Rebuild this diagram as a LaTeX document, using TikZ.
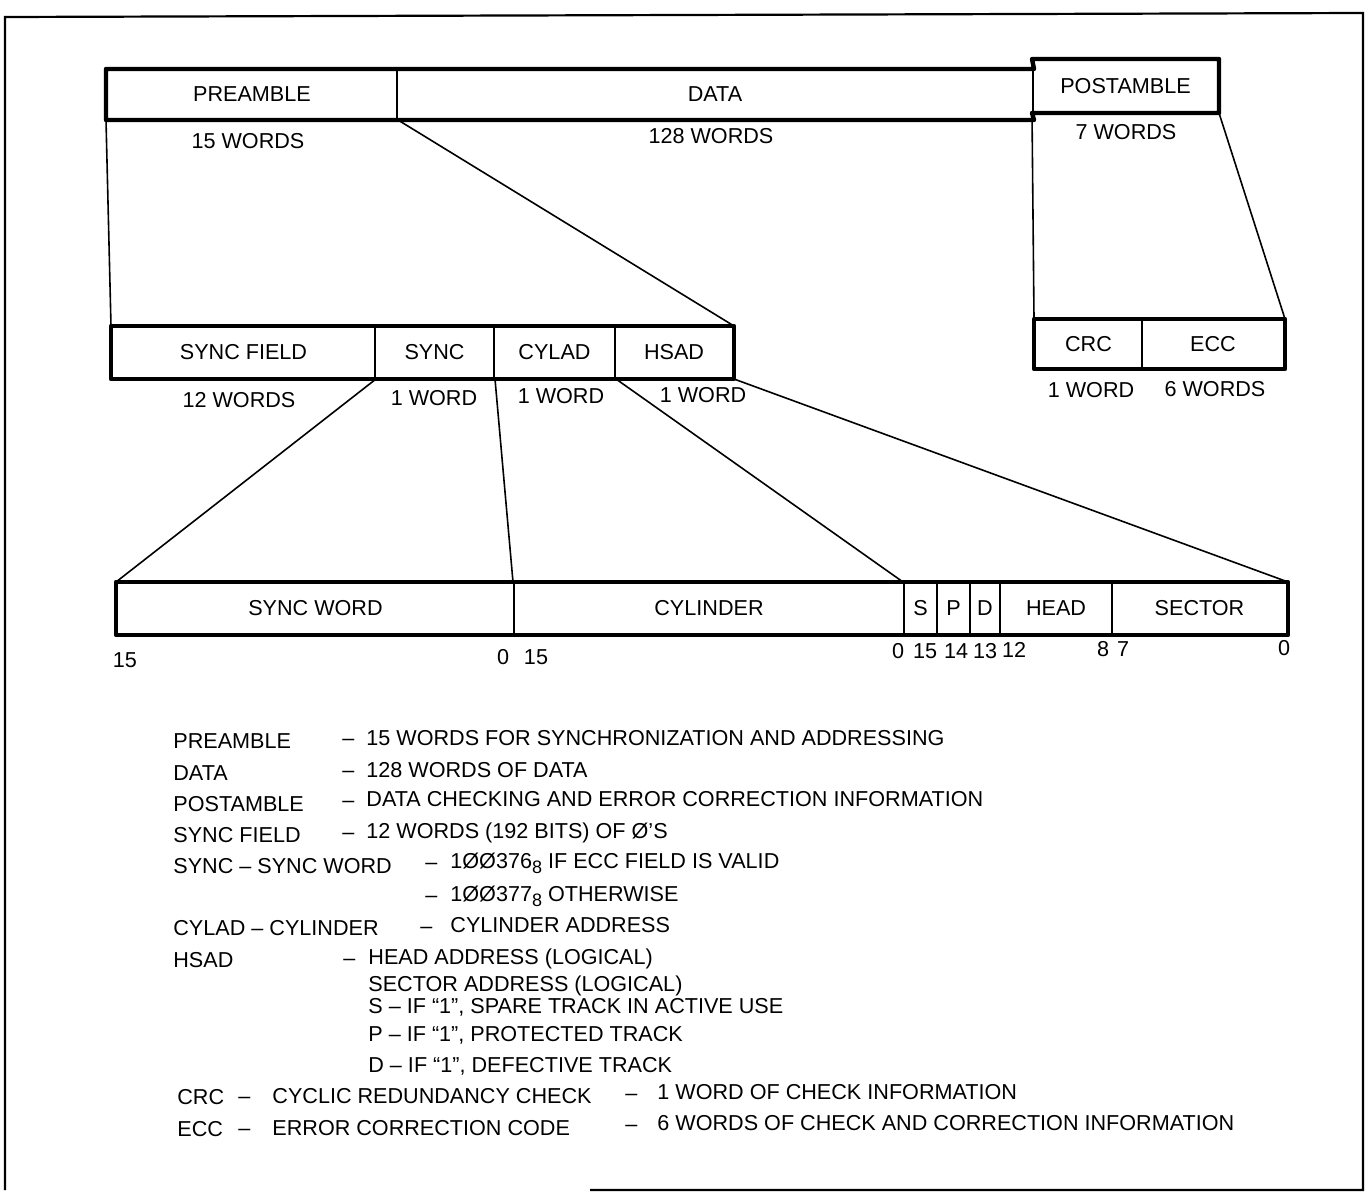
\documentclass[tikz,border=0pt]{standalone}
\usepackage{fontspec}
\setmainfont{Liberation Sans}
\usetikzlibrary{fit}
\newcommand\lbl{\fontsize{10.8}{13}\selectfont}
\newcommand\octsub[1]{\raisebox{-0.45ex}{\fontsize{9}{10}\selectfont #1}}
\begin{document}
\begin{tikzpicture}[x=0.5pt,y=-0.5pt,
  cell/.style={draw, line width=1pt, inner sep=0pt},
  outline/.style={line width=2.2pt, line join=round},
  framel/.style={line width=1.1pt},
  conn/.style={line width=0.8pt},
  num/.style={inner sep=0pt, anchor=base, font=\lbl},
  txt/.style={inner sep=0pt, anchor=base west, font=\lbl}]
\tikzset{every label/.style={font=\lbl, inner sep=0pt}}
\useasboundingbox (0,0) rectangle (1369,1194);

% outer frame
\draw[framel] (5,1190) -- (5,17) -- (1363,13) -- (1363,1190) -- (590,1190);

% top row
\node[cell, fit={(107,70) (397,119)}, label=center:PREAMBLE] (pre) {};
\node[cell, fit={(397,70) (1033,119)}, label=center:DATA] (data) {};
\node[cell, fit={(1033,60) (1218,112)}, label=center:POSTAMBLE] (post) {};
\draw[outline] (pre.north west) -- (data.north east) -- (post.north west) -- (post.north east)
  -- (post.south east) -- (post.south west) -- (data.south east) -- (pre.south west) -- cycle;
\node[num] (w15) at (248,148) {15 WORDS};
\node[num] (w128) at (711,143) {128 WORDS};
\node[num] (w7) at (1126,139) {7 WORDS};

% middle row
\node[cell, fit={(112,327) (375,378)}, label=center:SYNC FIELD] (sf) {};
\node[cell, fit={(375,327) (494,378)}, label=center:SYNC] (sy) {};
\node[cell, fit={(494,327) (615,378)}, label=center:CYLAD] (cy) {};
\node[cell, fit={(615,327) (733,378)}, label=center:HSAD] (hs) {};
\draw[outline] (sf.north west) rectangle (hs.south east);
\node[num] (w12) at (239,407) {12 WORDS};
\node[num] (w1a) at (434,405) {1 WORD};
\node[num] (w1b) at (561,403) {1 WORD};
\node[num] (w1c) at (703,402) {1 WORD};

% postamble detail
\node[cell, fit={(1035,320) (1142,368)}, label=center:CRC] (crc) {};
\node[cell, fit={(1142,320) (1284,368)}, label=center:ECC] (ecc) {};
\draw[outline] (crc.north west) rectangle (ecc.south east);
\node[num] (w1d) at (1091,397) {1 WORD};
\node[num] (w6) at (1215,396) {6 WORDS};

% bottom row
\node[cell, fit={(117,583) (514,634)}, label=center:SYNC WORD] (sw) {};
\node[cell, fit={(514,583) (904,634)}, label=center:CYLINDER] (cyl) {};
\node[cell, fit={(904,583) (937,634)}, label=center:S] (sb) {};
\node[cell, fit={(937,583) (970,634)}, label=center:P] (pb) {};
\node[cell, fit={(970,583) (1000,634)}, label=center:D] (db) {};
\node[cell, fit={(1000,583) (1112,634)}, label=center:HEAD] (head) {};
\node[cell, fit={(1112,583) (1287,634)}, label=center:SECTOR] (sec) {};
\draw[outline] (sw.north west) rectangle (sec.south east);

\node[num] (b1) at (125,667) {15};
\node[num] (b2) at (503,664) {0};
\node[num] (b3) at (536,664) {15};
\node[num] (b4) at (898,658) {0};
\node[num] (b5) at (925,658) {15};
\node[num] (b6) at (956,658) {14};
\node[num] (b7) at (985,658) {13};
\node[num] (b8) at (1014,657) {12};
\node[num] (b9) at (1103,656) {8};
\node[num] (b10) at (1123,656) {7};
\node[num] (b11) at (1284,655) {0};

% connectors
\draw[conn] (pre.south west) -- (sf.north west);
\draw[conn] (pre.south east) -- (hs.north east);
\draw[conn] (post.south west) -- (crc.north west);
\draw[conn] (post.south east) -- (ecc.north east);
\draw[conn] (sf.south east) -- (sw.north west);
\draw[conn] (sy.south east) -- (cyl.north west);
\draw[conn] (cy.south east) -- (sb.north west);
\draw[conn] (hs.south east) -- (sec.north east);

% legend
\node[txt] (l1a) at (173,748) {PREAMBLE};
\node[txt] (l1d) at (342,745) {–};
\node[txt] (l1b) at (366,745) {15 WORDS FOR SYNCHRONIZATION AND ADDRESSING};
\node[txt] (l2a) at (173,780) {DATA};
\node[txt] (l2d) at (342,777) {–};
\node[txt] (l2b) at (366,777) {128 WORDS OF DATA};
\node[txt] (l3a) at (173,811) {POSTAMBLE};
\node[txt] (l3d) at (342,807) {–};
\node[txt] (l3b) at (366,806) {DATA CHECKING AND ERROR CORRECTION INFORMATION};
\node[txt] (l4a) at (173,842) {SYNC FIELD};
\node[txt] (l4d) at (342,839) {–};
\node[txt] (l4b) at (366,838) {12 WORDS (192 BITS) OF Ø’S};
\node[txt] (l5a) at (173,873) {SYNC – SYNC WORD};
\node[txt] (l5d) at (425,869) {–};
\node[txt] (l5b) at (450,868) {1ØØ376\octsub{8} IF ECC FIELD IS VALID};
\node[txt] (l6d) at (425,902) {–};
\node[txt] (l6b) at (450,901) {1ØØ377\octsub{8} OTHERWISE};
\node[txt] (l7a) at (173,935) {CYLAD – CYLINDER};
\node[txt] (l7d) at (420,933) {–};
\node[txt] (l7b) at (450,932) {CYLINDER ADDRESS};
\node[txt] (l8a) at (173,967) {HSAD};
\node[txt] (l8d) at (343,965) {–};
\node[txt] (l8b) at (368,964) {HEAD ADDRESS (LOGICAL)};
\node[txt] (l9b) at (368,991) {SECTOR ADDRESS (LOGICAL)};
\node[txt] (l10b) at (368,1013) {S – IF “1”, SPARE TRACK IN ACTIVE USE};
\node[txt] (l11b) at (368,1041) {P – IF “1”, PROTECTED TRACK};
\node[txt] (l12b) at (368,1072) {D – IF “1”, DEFECTIVE TRACK};
\node[txt] (l13a) at (177,1104) {CRC};
\node[txt] (l13d) at (238,1103) {–};
\node[txt] (l13b) at (272,1103) {CYCLIC REDUNDANCY CHECK};
\node[txt] (l13e) at (625,1100) {–};
\node[txt] (l13c) at (657,1099) {1 WORD OF CHECK INFORMATION};
\node[txt] (l14a) at (177,1136) {ECC};
\node[txt] (l14d) at (238,1135) {–};
\node[txt] (l14b) at (272,1135) {ERROR CORRECTION CODE};
\node[txt] (l14e) at (625,1131) {–};
\node[txt] (l14c) at (657,1130) {6 WORDS OF CHECK AND CORRECTION INFORMATION};
\end{tikzpicture}
\end{document}
